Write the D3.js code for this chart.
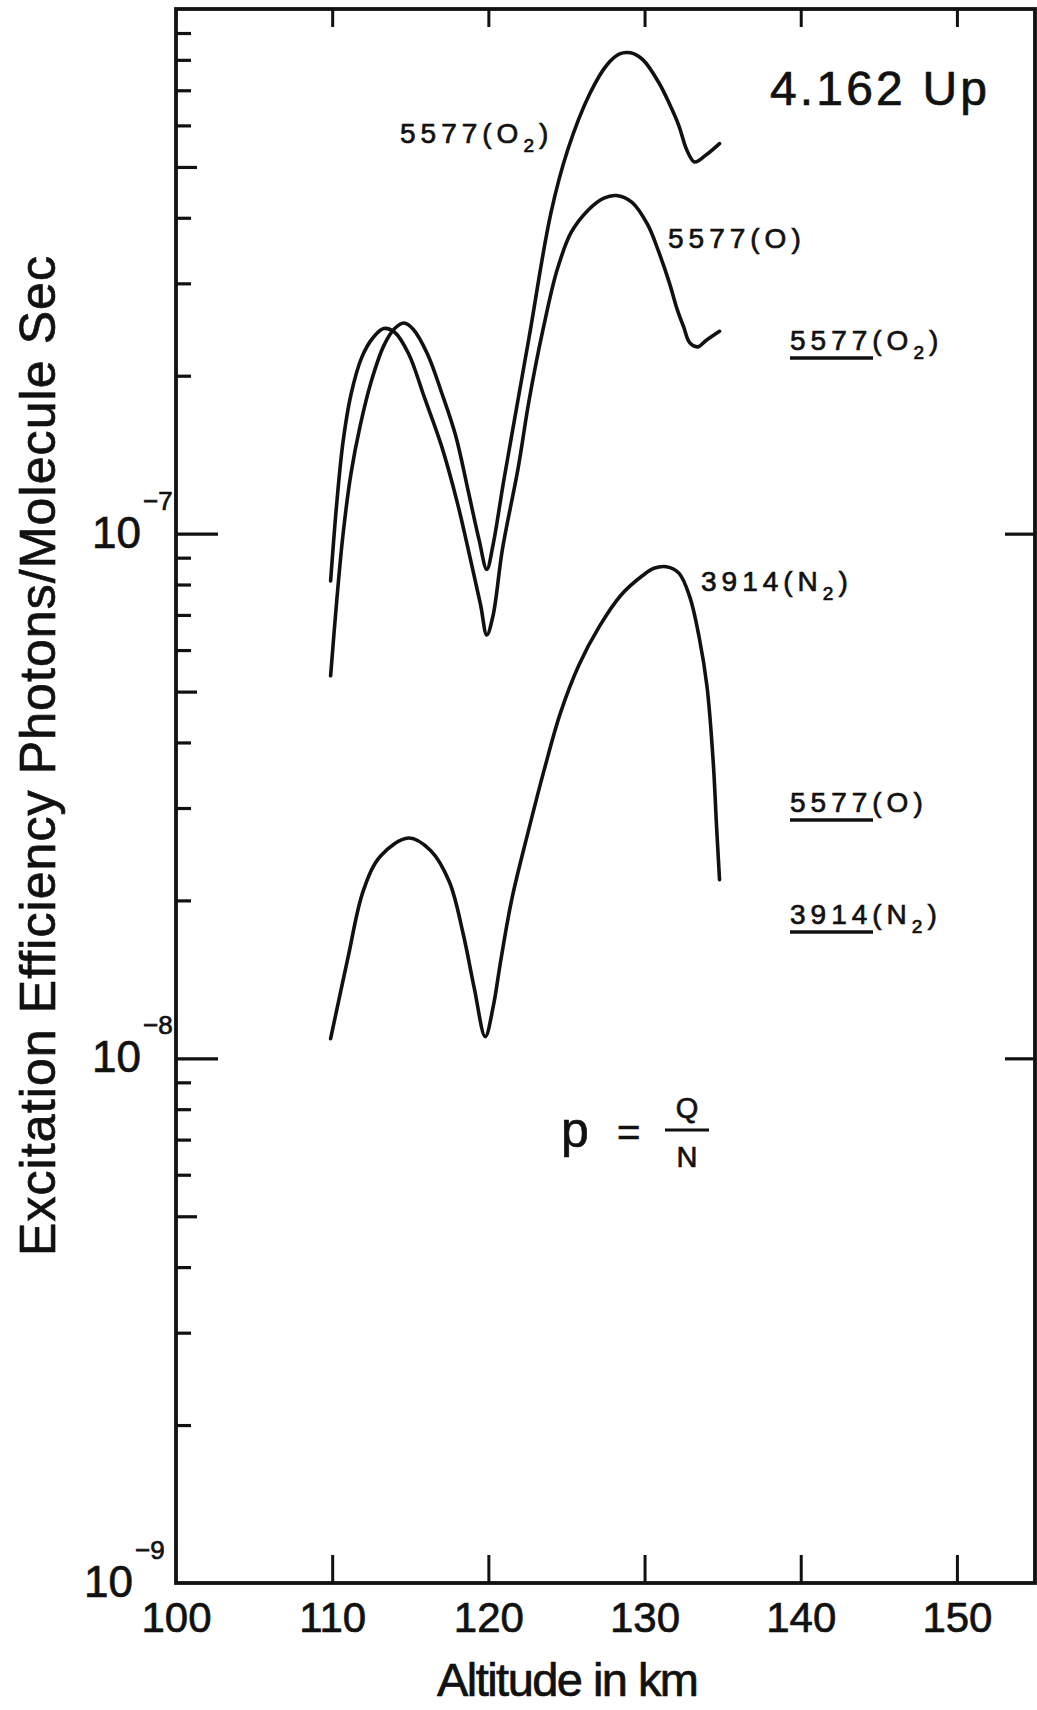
<!DOCTYPE html>
<html>
<head>
<meta charset="utf-8">
<script src="https://cdn.jsdelivr.net/npm/d3@7"></script>
<style>
  body { margin: 0; background: #fff; }
  text { font-family: "Liberation Sans", Arial, sans-serif; fill: #111; stroke: #111; stroke-width: 0.7px; }
</style>
</head>
<body>
<div id="chart"></div>
<script>
/* Data: altitude (km) and excitation efficiency */
let o2Alt = [109.9, 110.3, 110.7, 111.2, 111.8, 112.5, 113.3, 114.0, 114.6, 115.2, 116.1, 117.0, 117.9, 118.7, 119.4, 119.9, 120.3, 121.0, 122.6, 124.0, 125.1, 126.5, 127.6, 128.4, 129.1, 129.9, 130.9, 131.6, 132.2, 132.7, 133.2, 133.9, 134.8];
let o2Val = [5.36e-8, 7.50e-8, 1.00e-7, 1.30e-7, 1.61e-7, 1.95e-7, 2.28e-7, 2.46e-7, 2.52e-7, 2.45e-7, 2.20e-7, 1.86e-7, 1.54e-7, 1.21e-7, 9.75e-8, 8.55e-8, 9.52e-8, 1.27e-7, 2.36e-7, 4.08e-7, 5.41e-7, 6.90e-7, 7.83e-7, 8.21e-7, 8.25e-7, 8.00e-7, 7.25e-7, 6.59e-7, 5.99e-7, 5.39e-7, 5.11e-7, 5.26e-7, 5.54e-7];

let oAlt = [109.9, 110.3, 110.7, 111.2, 111.9, 112.6, 113.3, 114.0, 114.9, 115.9, 117.0, 118.0, 118.8, 119.5, 119.9, 120.3, 120.9, 121.9, 122.6, 123.5, 124.4, 125.3, 126.4, 127.4, 128.2, 129.2, 130.2, 130.9, 131.6, 132.1, 132.5, 132.9, 133.4, 133.9, 134.8];
let oVal = [8.13e-8, 1.15e-7, 1.50e-7, 1.84e-7, 2.17e-7, 2.36e-7, 2.46e-7, 2.42e-7, 2.20e-7, 1.82e-7, 1.47e-7, 1.15e-7, 9.08e-8, 7.32e-8, 6.41e-8, 6.98e-8, 9.34e-8, 1.33e-7, 1.79e-7, 2.45e-7, 3.18e-7, 3.75e-7, 4.14e-7, 4.36e-7, 4.41e-7, 4.28e-7, 3.88e-7, 3.45e-7, 3.00e-7, 2.67e-7, 2.48e-7, 2.31e-7, 2.27e-7, 2.33e-7, 2.43e-7];

let n2Alt = [109.9, 111.0, 112.0, 113.1, 114.9, 116.3, 117.5, 118.4, 119.1, 119.8, 120.3, 120.8, 121.5, 122.6, 123.6, 124.6, 125.8, 127.1, 128.5, 129.9, 130.6, 131.4, 132.2, 132.9, 133.5, 134.0, 134.4, 134.6, 134.8];
let n2Val = [1.09e-8, 1.55e-8, 2.09e-8, 2.43e-8, 2.63e-8, 2.49e-8, 2.17e-8, 1.72e-8, 1.36e-8, 1.10e-8, 1.25e-8, 1.54e-8, 2.01e-8, 2.74e-8, 3.57e-8, 4.54e-8, 5.62e-8, 6.65e-8, 7.64e-8, 8.33e-8, 8.59e-8, 8.65e-8, 8.41e-8, 7.57e-8, 6.34e-8, 5.11e-8, 3.66e-8, 2.81e-8, 2.19e-8];

let xTicks = [100, 110, 120, 130, 140, 150];
let decades = [1e-9, 1e-8, 1e-7];
let decadeExp = ["-9", "-8", "-7"];
let minorMult = [2, 3, 4, 5, 6, 7, 8, 9];

let width = 1037;
let height = 1710;
let plotLeft = 176, plotRight = 1035, plotTop = 9, plotBottom = 1583;
let lineStroke = 3.6;

let series = [
  { name: "5577(O2)", values: o2Alt.map((a, i) => ({ alt: a, val: o2Val[i] })) },
  { name: "5577(O)", values: oAlt.map((a, i) => ({ alt: a, val: oVal[i] })) },
  { name: "3914(N2)", values: n2Alt.map((a, i) => ({ alt: a, val: n2Val[i] })) }
];

/* Scale */
let xScale = d3.scaleLinear().domain([100, 155]).range([plotLeft, plotRight]);
let yScale = d3.scaleLog().domain([1e-9, 1e-6]).range([plotBottom, plotTop]);

let svg = d3
  .select("#chart")
  .append("svg")
  .attr("width", width)
  .attr("height", height)
  .style("background", "#fff");

/* Frame */
svg
  .append("rect")
  .attr("x", plotLeft)
  .attr("y", plotTop)
  .attr("width", plotRight - plotLeft)
  .attr("height", plotBottom - plotTop)
  .attr("fill", "none")
  .attr("stroke", "#111")
  .attr("stroke-width", 3.8);

/* Axes */
let minorTicks = [];
decades.forEach(d => minorMult.forEach(m => minorTicks.push(d * m)));

let xAxis = d3
  .axisBottom(xScale)
  .tickValues(xTicks)
  .tickSizeInner(-28)
  .tickSizeOuter(0)
  .tickPadding(19)
  .tickFormat(d3.format("d"));

let gx = svg
  .append("g")
  .attr("transform", `translate(0, ${plotBottom})`)
  .call(xAxis);
gx.select(".domain").remove();
gx.selectAll(".tick line").attr("stroke", "#111").attr("stroke-width", 3);
gx.selectAll(".tick").filter(d => d === 100).select("line").remove();
gx.selectAll(".tick text")
  .attr("fill", "#111")
  .style("font-size", "42px")
  .style("font-family", "'Liberation Sans', Arial, sans-serif");

let gTop = svg
  .append("g")
  .attr("transform", `translate(0, ${plotTop})`)
  .call(
    d3.axisTop(xScale)
      .tickValues(xTicks.slice(1))
      .tickSizeInner(-18)
      .tickSizeOuter(0)
      .tickFormat("")
  );
gTop.select(".domain").remove();
gTop.selectAll(".tick line").attr("stroke", "#111").attr("stroke-width", 3);

let gy = svg
  .append("g")
  .attr("transform", `translate(${plotLeft}, 0)`)
  .call(
    d3.axisLeft(yScale)
      .tickValues(decades.slice(1).concat(minorTicks))
      .tickSizeOuter(0)
      .tickFormat("")
  );
gy.select(".domain").remove();
gy.selectAll(".tick line")
  .attr("stroke", "#111")
  .attr("stroke-width", 3.2)
  .attr("x2", d => {
    let m = Math.round(d / Math.pow(10, Math.floor(Math.log10(d) + 1e-9)));
    if (m === 1) return 42;
    if (m === 5) return 21;
    return 15;
  });

let gRight = svg
  .append("g")
  .attr("transform", `translate(${plotRight}, 0)`)
  .call(
    d3.axisRight(yScale)
      .tickValues([1e-8, 1e-7])
      .tickSizeInner(-30)
      .tickSizeOuter(0)
      .tickFormat("")
  );
gRight.select(".domain").remove();
gRight.selectAll(".tick line").attr("stroke", "#111").attr("stroke-width", 3.2);

/* Decade labels 10^-n */
svg
  .append("g")
  .selectAll("text")
  .data(decades)
  .enter()
  .append("text")
  .attr("x", (d, i) => (i === 0 ? 133 : 141))
  .attr("y", d => yScale(d) + 14)
  .attr("text-anchor", "end")
  .style("font-size", "44px")
  .text("10");

svg
  .append("g")
  .selectAll("text")
  .data(decades)
  .enter()
  .append("text")
  .attr("x", (d, i) => (i === 0 ? 135 : 143))
  .attr("y", d => yScale(d) - 24)
  .style("font-size", "26px")
  .text((d, i) => decadeExp[i].replace("-", "\u2212"));

/* Lines */
let line = d3
  .line()
  .x(d => xScale(d.alt))
  .y(d => yScale(d.val))
  .curve(d3.curveCatmullRom.alpha(0.5));

svg
  .append("g")
  .attr("class", "lines")
  .selectAll("path")
  .data(series)
  .enter()
  .append("path")
  .attr("d", d => line(d.values))
  .attr("fill", "none")
  .attr("stroke", "#111")
  .attr("stroke-width", lineStroke)
  .attr("stroke-linejoin", "round")
  .attr("stroke-linecap", "round");

/* Curve labels with subscripts */
function label(x, y, main, sub, underline) {
  let t = svg
    .append("text")
    .attr("x", x)
    .attr("y", y)
    .style("font-size", "28px")
    .style("letter-spacing", "5px");
  t.append("tspan").text(main);
  if (sub) {
    t.append("tspan").attr("dy", 9).style("font-size", "19px").text(sub);
    t.append("tspan").attr("dy", -9).text(")");
  } else {
    t.append("tspan").text(")");
  }
  if (underline) {
    svg
      .append("line")
      .attr("x1", x)
      .attr("x2", x + 83)
      .attr("y1", y + 8)
      .attr("y2", y + 8)
      .attr("stroke", "#111")
      .attr("stroke-width", 3.5);
  }
}

label(400, 143, "5577(O", "2", false);
label(668, 248, "5577(O", null, false);
label(701, 591, "3914(N", "2", false);
label(790, 350, "5577(O", "2", true);
label(790, 812, "5577(O", null, true);
label(790, 924, "3914(N", "2", true);

svg
  .append("text")
  .attr("x", 770)
  .attr("y", 105)
  .attr("textLength", 217)
  .style("font-size", "48px")
  .text("4.162 Up");

/* p = Q / N */
svg.append("text").attr("x", 561).attr("y", 1147).style("font-size", "50px").text("p");
svg.append("text").attr("x", 617).attr("y", 1146).style("font-size", "40px").text("=");
svg.append("text").attr("x", 687).attr("y", 1118).attr("text-anchor", "middle").style("font-size", "29px").text("Q");
svg.append("text").attr("x", 687).attr("y", 1167).attr("text-anchor", "middle").style("font-size", "29px").text("N");
svg
  .append("line")
  .attr("x1", 665)
  .attr("x2", 709)
  .attr("y1", 1130)
  .attr("y2", 1130)
  .attr("stroke", "#111")
  .attr("stroke-width", 3);

/* Axis titles */
svg
  .append("text")
  .attr("x", 568)
  .attr("y", 1696)
  .attr("text-anchor", "middle")
  .attr("textLength", 262)
  .style("font-size", "47px")
  .text("Altitude in km");

svg
  .append("text")
  .attr("transform", "translate(55, 756) rotate(-90)")
  .attr("text-anchor", "middle")
  .attr("textLength", 1000)
  .style("font-size", "50px")
  .text("Excitation Efficiency Photons/Molecule Sec");
</script>
</body>
</html>
